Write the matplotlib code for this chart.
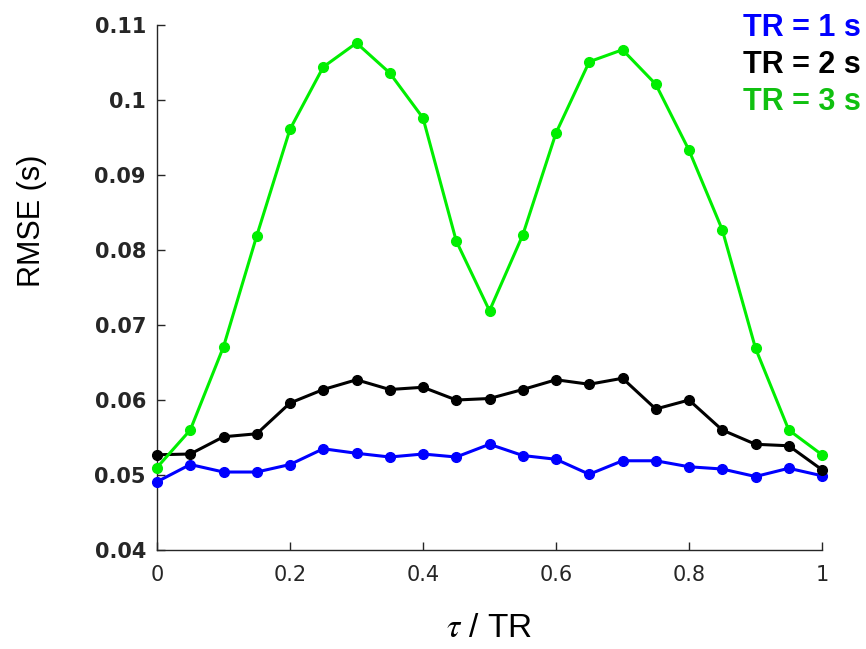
import numpy as np
import matplotlib
matplotlib.use('Agg')
import matplotlib.pyplot as plt

plt.rcParams['mathtext.fontset'] = 'stix'

# tau / TR sampling
tau = np.arange(0, 1.0001, 0.05)

# RMSE (s) for each repetition time
rmse_tr1 = [0.0491, 0.0514, 0.0504, 0.0504, 0.0514, 0.0535, 0.0529, 0.0524, 0.0528, 0.0524, 0.0541,
            0.0526, 0.0521, 0.0501, 0.0519, 0.0519, 0.0511, 0.0508, 0.0498, 0.0509, 0.0499]
rmse_tr2 = [0.0527, 0.0528, 0.0551, 0.0555, 0.0596, 0.0614, 0.0627, 0.0614, 0.0617, 0.0600, 0.0602,
            0.0614, 0.0627, 0.0621, 0.0629, 0.0588, 0.0600, 0.0560, 0.0541, 0.0539, 0.0507]
rmse_tr3 = [0.0510, 0.0560, 0.0671, 0.0819, 0.0961, 0.1044, 0.1076, 0.1036, 0.0976, 0.0812, 0.0719,
            0.0820, 0.0956, 0.1051, 0.1067, 0.1021, 0.0933, 0.0827, 0.0669, 0.0560, 0.0527]

labels = ['TR = 1 s', 'TR = 2 s', 'TR = 3 s']
line_colors = ['#0000ff', '#000000', '#00ee00']
text_colors = ['#0000ff', '#000000', '#10c010']

fig = plt.figure(figsize=(8.66, 6.49), dpi=100)
ax = fig.add_axes([0.1813, 0.1525, 0.7679, 0.809])

for y, c in zip([rmse_tr1, rmse_tr2, rmse_tr3], line_colors):
    ax.plot(tau, y, color=c, lw=2.2, marker='o', ms=7, clip_on=False, zorder=3)

ax.set_xlim(0, 1)
ax.set_ylim(0.04, 0.11)

for s in ['top', 'right']:
    ax.spines[s].set_visible(False)
for s in ['left', 'bottom']:
    ax.spines[s].set_color('#262626')
    ax.spines[s].set_linewidth(1.0)
ax.tick_params(direction='in', length=6, width=1.0, color='#262626', labelcolor='#262626')
ax.tick_params(axis='x', pad=11, labelsize=15)
ax.tick_params(axis='y', pad=8, labelsize=15)

ax.set_xticks([0, 0.2, 0.4, 0.6, 0.8, 1])
ax.set_xticklabels(['0', '0.2', '0.4', '0.6', '0.8', '1'])
ax.set_yticks(np.arange(0.04, 0.1101, 0.01))
ax.set_yticklabels(['0.04', '0.05', '0.06', '0.07', '0.08', '0.09', '0.1', '0.11'],
                   fontweight='bold')

ax.set_ylabel('RMSE (s)', fontsize=22, fontfamily='Liberation Sans')
ax.yaxis.set_label_coords(-0.165, 0.627)
ax.set_xlabel(r'$\tau$ / TR', fontsize=24, fontfamily='Liberation Sans', labelpad=20)

# colored legend text in the upper right corner
for i, (lab, c) in enumerate(zip(labels, text_colors)):
    fig.text(0.994, 0.957 - i * 0.057, lab, color=c, fontsize=22, fontweight='bold',
             fontfamily='Liberation Sans', ha='right', va='center')

fig.savefig('out.png', dpi=100)
